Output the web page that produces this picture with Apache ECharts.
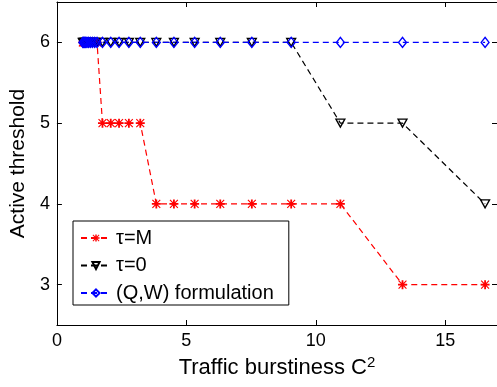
<!DOCTYPE html>
<html>
<head>
<meta charset="utf-8">
<script src="https://cdn.jsdelivr.net/npm/echarts@6/dist/echarts.min.js"></script>
<style>
  html, body { margin: 0; padding: 0; background: #fff; }
  #chart { width: 497px; height: 387px; }
</style>
</head>
<body>
<div id="chart"></div>
<script>
// Traffic burstiness C^2 values where the threshold was evaluated
const burstiness = [1.00, 1.03, 1.07, 1.11, 1.16, 1.22, 1.29, 1.37, 1.46, 1.55,
  1.76, 2.08, 2.40, 2.78, 3.22, 3.84, 4.52, 5.32, 6.31, 7.53, 9.05, 10.95, 13.35, 16.54];

// Active threshold for each policy
const thresholdTauM = [6, 6, 6, 6, 6, 6, 6, 6, 6, 6,
  5, 5, 5, 5, 5, 4, 4, 4, 4, 4, 4, 4, 3, 3];
const thresholdTau0 = [6, 6, 6, 6, 6, 6, 6, 6, 6, 6,
  6, 6, 6, 6, 6, 6, 6, 6, 6, 6, 6, 5, 5, 4];
const thresholdQW = [6, 6, 6, 6, 6, 6, 6, 6, 6, 6,
  6, 6, 6, 6, 6, 6, 6, 6, 6, 6, 6, 6, 6, 6];

const seriesNames = ['\u03c4=M', '\u03c4=0', '(Q,W) formulation'];
const xTicks = [0, 5, 10, 15];
const yTicks = [3, 4, 5, 6];

const pairs = ys => burstiness.map((x, i) => [x, ys[i]]);

// asterisk marker: plus and cross bars
const asterisk = 'path://M8 0H12V20H8Z M0 8H20V12H0Z ' +
  'M2.2 0.4L19.6 17.8L17.8 19.6L0.4 2.2Z M17.8 0.4L19.6 2.2L2.2 19.6L0.4 17.8Z';

const FONT = 'Liberation Sans, Arial, Helvetica, sans-serif';
const dash = [6, 4];

const chart = echarts.init(document.getElementById('chart'), null, { renderer: 'canvas' });

const baseX = {
  type: 'value', min: 0, max: 17,
  splitLine: { show: false },
  axisLine: { show: true, onZero: false, lineStyle: { color: '#000', width: 1 } },
  axisTick: { show: true, inside: true, length: 5, customValues: xTicks, lineStyle: { color: '#000' } }
};
const baseY = {
  type: 'value', min: 2.5, max: 6.5,
  splitLine: { show: false },
  axisLine: { show: true, onZero: false, lineStyle: { color: '#000', width: 1 } },
  axisTick: { show: true, inside: true, length: 5, customValues: yTicks, lineStyle: { color: '#000' } }
};

chart.setOption({
  animation: false,
  backgroundColor: '#fff',
  textStyle: { fontFamily: FONT },
  grid: { left: 52, top: 2, width: 447, height: 323, containLabel: false },
  xAxis: [
    Object.assign({}, baseX, {
      position: 'bottom',
      axisLabel: { show: true, customValues: xTicks, fontSize: 18, color: '#000', margin: 7, fontFamily: FONT },
      name: 'Traffic burstiness C{sup|2}',
      nameLocation: 'middle',
      nameGap: 27,
      nameTextStyle: {
        fontSize: 22, color: '#000', fontFamily: FONT,
        rich: { sup: { fontSize: 15, color: '#000', fontFamily: FONT, padding: [0, 0, 11, 0] } }
      }
    }),
    Object.assign({}, baseX, { position: 'top', axisLabel: { show: false } })
  ],
  yAxis: [
    Object.assign({}, baseY, {
      position: 'left',
      axisLabel: { show: true, customValues: yTicks, fontSize: 18, color: '#000', margin: 7, fontFamily: FONT },
      name: 'Active threshold',
      nameLocation: 'middle',
      nameGap: 24,
      nameTextStyle: { fontSize: 21, color: '#000', fontFamily: FONT }
    }),
    Object.assign({}, baseY, { position: 'right', axisLabel: { show: false } })
  ],
  legend: {
    orient: 'vertical',
    left: 73, top: 221,
    backgroundColor: '#fff',
    borderColor: '#000',
    borderWidth: 1,
    borderRadius: 0,
    padding: [7, 15, 2, 7],
    itemWidth: 30,
    itemHeight: 9,
    itemGap: 7.5,
    textStyle: { fontSize: 20, color: '#000', fontFamily: FONT, lineHeight: 20 },
    data: seriesNames
  },
  series: [
    {
      name: seriesNames[0], type: 'line', data: pairs(thresholdTauM),
      symbol: asterisk, symbolSize: 9,
      itemStyle: { color: '#ff0000' },
      lineStyle: { color: '#ff0000', width: 1.2, type: dash }
    },
    {
      name: seriesNames[1], type: 'line', data: pairs(thresholdTau0),
      symbol: 'triangle', symbolRotate: 180, symbolSize: [9, 8],
      itemStyle: { color: 'rgba(255,255,255,0)', borderColor: '#000', borderWidth: 1.3 },
      lineStyle: { color: '#000', width: 1.2, type: dash }
    },
    {
      name: seriesNames[2], type: 'line', data: pairs(thresholdQW),
      symbol: 'diamond', symbolSize: [8, 10],
      itemStyle: { color: 'rgba(255,255,255,0)', borderColor: '#0000ff', borderWidth: 1.3 },
      lineStyle: { color: '#0000ff', width: 1.2, type: dash }
    }
  ]
});
</script>
</body>
</html>
